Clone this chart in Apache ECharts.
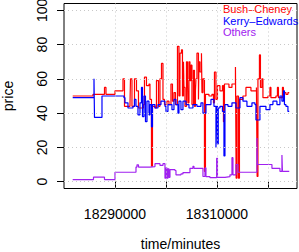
<!DOCTYPE html>
<html>
<head>
<meta charset="utf-8">
<script src="https://cdn.jsdelivr.net/npm/echarts@6/dist/echarts.min.js"></script>
<style>
html,body{margin:0;padding:0;background:#fff;}
#chart{width:299px;height:252px;}
</style>
</head>
<body>
<div id="chart"></div>
<script>
// ---- data ----
var seriesNames = ['Bush–Cheney', 'Kerry–Edwards', 'Others'];

var bushTimes = [
  18281706, 18285686, 18287941, 18288235, 18290000, 18291569, 18291863, 18292941, 18293039, 18293333,
  18293824, 18294216, 18294608, 18295588, 18295784, 18296177, 18296667, 18296863, 18297157, 18297353,
  18297843, 18298137, 18298530, 18298824, 18299118, 18299412, 18299706, 18300196, 18300588, 18300980,
  18301275, 18301569, 18301863, 18302255, 18302549, 18302745, 18303039, 18303235, 18303431, 18303529,
  18303726, 18304020, 18304216, 18304314, 18304510, 18304706, 18304902, 18305098, 18305392, 18305588,
  18305784, 18305882, 18306078, 18306373, 18306471, 18306667, 18306961, 18307059, 18307255, 18307549,
  18307745, 18308432, 18309020, 18309314, 18309510, 18309804, 18310098, 18310588, 18311078, 18311275,
  18311471, 18312353, 18312941, 18313628, 18313765, 18313922, 18314216, 18314412, 18315098, 18315686,
  18316667, 18317745, 18317882, 18318039, 18318333, 18318530, 18318824, 18319020, 18320000, 18320392,
  18320588, 18321569, 18321863, 18322059, 18322549, 18322843, 18323039, 18323530, 18323922, 18324177
];
var bushPrices = [
  50, 51, 55, 51, 53, 60, 44, 45, 60, 44,
  60, 53, 43, 45, 61, 56, 57, 48, 9, 44,
  43, 59, 44, 60, 69, 48, 45, 47, 45, 57,
  47, 52, 45, 79, 50, 75, 77, 50, 70, 55,
  44, 70, 62, 46, 70, 59, 68, 45, 65, 44,
  53, 60, 75, 48, 70, 64, 75, 52, 60, 6,
  51, 50, 51, 46, 64, 48, 56, 53, 56, 35,
  57, 55, 57, 67, 2, 50, 2, 48, 50, 55,
  53, 55, 3, 60, 74, 55, 60, 49, 50, 55,
  49, 50, 55, 49, 49, 55, 52, 51, 52, 52
];

var kerryTimes = [
  18281706, 18285882, 18285980, 18287451, 18291765, 18291961, 18292549, 18293530, 18293824, 18294118,
  18294510, 18294902, 18295196, 18295392, 18295686, 18295980, 18296275, 18296667, 18296863, 18297157,
  18297353, 18297843, 18298432, 18299020, 18299804, 18300000, 18300392, 18301177, 18301569, 18301961,
  18302353, 18302549, 18302941, 18303333, 18303922, 18304510, 18305294, 18306078, 18306863, 18307255,
  18307843, 18308824, 18309412, 18309804, 18309941, 18310098, 18310255, 18310588, 18311078, 18311373,
  18311569, 18312157, 18312941, 18313726, 18314510, 18315098, 18315882, 18316863, 18317451, 18317647,
  18318431, 18319608, 18320392, 18320980, 18321765, 18322353, 18322745, 18323039, 18323235, 18323530,
  18323922, 18324177
];
var kerryPrices = [
  49, 60, 37.5, 50, 49, 46, 43, 44, 48, 44,
  39, 46, 55, 38, 50, 35, 47, 39, 45, 32,
  45, 43, 45, 47, 44, 41, 45, 42, 48, 45,
  40, 47, 42, 47, 45, 43, 45, 44, 46, 40,
  45, 48, 44, 20, 44, 22, 43, 44, 41, 15,
  45, 44, 46, 43, 49, 47, 44, 46, 45, 36,
  44, 42, 45, 47, 45, 50, 47, 53, 45, 44,
  41, 41
];

var othersTimes = [
  18281706, 18285784, 18287941, 18290000, 18294118, 18294314, 18294608, 18296863, 18297843, 18298824,
  18299412, 18299804, 18300000, 18300196, 18300392, 18300588, 18300784, 18301765, 18301961, 18302941,
  18303333, 18304706, 18305294, 18305490, 18307255, 18307647, 18307843, 18308628, 18309941, 18310098,
  18311569, 18312549, 18312941, 18313137, 18313726, 18314118, 18317843, 18317941, 18320784, 18322353,
  18322745, 18322843, 18324177
];
var othersPrices = [
  1.2, 2.6, 1.2, 5.5, 8.5, 9.8, 8.5, 8.8, 10.5, 9.5,
  10.5, 2, 8, 2, 7.5, 2.5, 7, 6.5, 4, 4.5,
  5.3, 7.8, 9, 7.8, 3, 8, 2.9, 2.3, 13.6, 2.5,
  2.9, 4, 14, 4, 10, 5.5, 25.5, 10, 7.8, 6,
  15.5, 6, 6
];

var xTickValues = [18290000, 18300000, 18310000, 18320000];
var xLabelValues = [18290000, 18310000];
var yTickValues = [0, 20, 40, 60, 80, 100];

// ---- chart ----
var FONT = '"Liberation Sans", Arial, Helvetica, sans-serif';
function zip(t, v) { return t.map(function (x, i) { return [x, v[i]]; }); }

var chart = echarts.init(document.getElementById('chart'), null, { renderer: 'svg' });
var gridMarks = xTickValues.map(function (v) { return { xAxis: v }; })
  .concat(yTickValues.map(function (v) { return { yAxis: v }; }));

function lineSeries(name, t, v, color) {
  return {
    name: name, type: 'line', step: 'end', showSymbol: false, symbol: 'none',
    data: zip(t, v), z: 3,
    lineStyle: { color: color, width: 1.2 }, itemStyle: { color: color },
    emphasis: { disabled: true }
  };
}

chart.setOption({
  animation: false,
  backgroundColor: '#fff',
  grid: { left: 64, right: 2, top: 3.5, bottom: 63.5, show: true, borderColor: '#000', borderWidth: 1,
    backgroundColor: 'transparent', containLabel: false, outerBoundsMode: 'none' },
  legend: {
    orient: 'vertical', left: 218, top: 3, icon: 'none', itemWidth: 0, itemHeight: 12, itemGap: 0,
    padding: 0, selectedMode: false,
    textStyle: { fontSize: 11, fontFamily: FONT },
    data: [
      { name: seriesNames[0], textStyle: { color: '#ff0000' } },
      { name: seriesNames[1], textStyle: { color: '#0000ff' } },
      { name: seriesNames[2], textStyle: { color: '#a020f0' } }
    ]
  },
  xAxis: {
    type: 'value', min: 18280000, max: 18325700, interval: 10000,
    axisLine: { show: false },
    axisTick: { show: true, length: 7, customValues: xTickValues, lineStyle: { color: '#000', width: 1 } },
    axisLabel: { customValues: xLabelValues, margin: 18, color: '#000', fontSize: 14, fontFamily: FONT,
      formatter: function (v) { return String(v); } },
    splitLine: { show: false },
    name: 'time/minutes', nameLocation: 'middle', nameGap: 48,
    nameTextStyle: { color: '#000', fontSize: 14, fontFamily: FONT }
  },
  yAxis: {
    type: 'value', min: -4, max: 104,
    axisLine: { show: false },
    axisTick: { show: true, length: 7, customValues: yTickValues, lineStyle: { color: '#000', width: 1 } },
    axisLabel: { customValues: yTickValues, rotate: 90, margin: 15, color: '#000', fontSize: 14, fontFamily: FONT,
      formatter: function (v) { return String(v); } },
    splitLine: { show: false },
    name: 'price', nameLocation: 'middle', nameGap: 49, nameRotate: 90,
    nameTextStyle: { color: '#000', fontSize: 14, fontFamily: FONT }
  },
  series: [
    {
      name: 'grid', type: 'line', data: [], z: 1, silent: true,
      markLine: {
        silent: true, symbol: ['none', 'none'], animation: false,
        label: { show: false },
        lineStyle: { color: '#c8c8c8', type: [1, 3], width: 1 },
        emphasis: { disabled: true },
        data: gridMarks
      }
    },
    lineSeries(seriesNames[0], bushTimes, bushPrices, '#ff0000'),
    lineSeries(seriesNames[1], kerryTimes, kerryPrices, '#0000ff'),
    lineSeries(seriesNames[2], othersTimes, othersPrices, '#a020f0')
  ]
});
</script>
</body>
</html>
